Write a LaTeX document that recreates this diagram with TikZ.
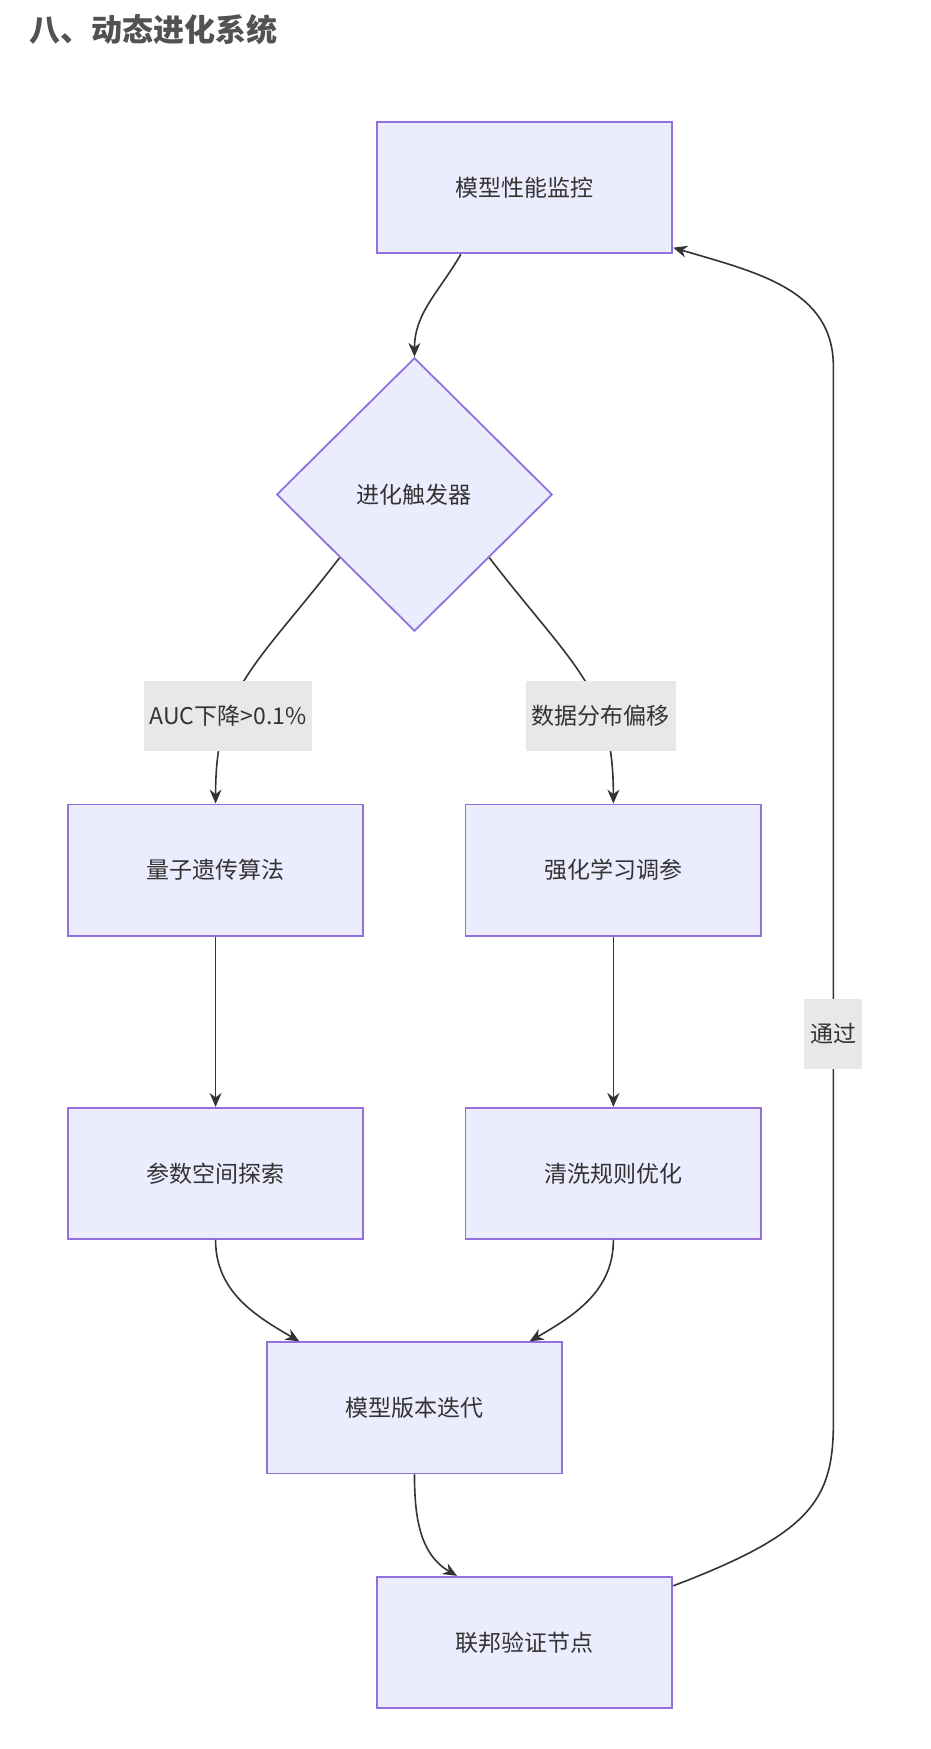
\documentclass[tikz,border=0pt]{standalone}
\usepackage{fontspec}
\setmainfont{Noto Sans CJK SC}
\usetikzlibrary{shapes.geometric,arrows.meta,calc}
\definecolor{boxfill}{HTML}{ECECFF}
\definecolor{boxline}{HTML}{9370DB}
\definecolor{ink}{HTML}{333333}
\definecolor{lblbg}{HTML}{E8E8E8}
\tikzset{
  box/.style={draw=boxline, fill=boxfill, line width=0.9pt, minimum width=147.8pt, minimum height=65.6pt, inner sep=0pt, text=ink, font=\fontsize{11.5}{13}\selectfont},
  choice/.style={diamond, draw=boxline, fill=boxfill, line width=0.9pt, minimum width=137.8pt, minimum height=136.7pt, inner sep=0pt, text=ink, font=\fontsize{11.5}{13}\selectfont},
  flow/.style={draw=ink, line width=0.8pt, -{Stealth[length=7pt,width=6pt]}},
  tag/.style={fill=lblbg, text=ink, inner sep=3pt, minimum height=35pt, font=\fontsize{11.5}{13}\selectfont}
}
\begin{document}
\begin{tikzpicture}[x=0.5556pt, y=-0.5556pt]
\useasboundingbox (0,0) rectangle (837,1574);
\node[anchor=west, text=ink!85, font=\fontsize{15.5}{18}\selectfont\bfseries] (title) at (20,27) {八、动态进化系统};
% nodes
\node[box] (mon) at (472,169) {模型性能监控};
\node[choice] (trig) at (373,445) {进化触发器};
\node[box] (qga) at (194,783) {量子遗传算法};
\node[box] (rl) at (552,783) {强化学习调参};
\node[box] (psx) at (194,1056) {参数空间探索};
\node[box] (clean) at (552,1056) {清洗规则优化};
\node[box] (iter) at (373,1267) {模型版本迭代};
\node[box] (fed) at (472,1478) {联邦验证节点};
% edges
\draw[flow] ($(mon.south west)!0.286!(mon.south east)$) to[out=-120,in=90] (trig.north);
\draw[flow] ($(trig.west)!0.46!(trig.south)$) .. controls (230,600) and (194,620) .. node[tag, pos=0.68] {AUC下降>0.1\%} (qga.north);
\draw[flow] ($(trig.east)!0.46!(trig.south)$) .. controls (516,600) and (552,620) .. node[tag, pos=0.68] {数据分布偏移} (rl.north);
\draw[flow] (qga) -- (psx);
\draw[flow] (rl) -- (clean);
\draw[flow] (psx.south) to[out=-90,in=150] ($(iter.north west)!0.113!(iter.north east)$);
\draw[flow] (clean.south) to[out=-90,in=30] ($(iter.north west)!0.887!(iter.north east)$);
\draw[flow] (iter.south) to[out=-90,in=150] ($(fed.north west)!0.273!(fed.north east)$);
\draw[flow] ($(fed.north east)+(0,9)$) .. controls (730,1380) and (750,1350) .. (750,1280)
  -- node[tag, pos=0.368] {通过} (750,330) .. controls (750,260) and (680,245) .. ($(mon.south east)+(0,-6)$);
\end{tikzpicture}
\end{document}
